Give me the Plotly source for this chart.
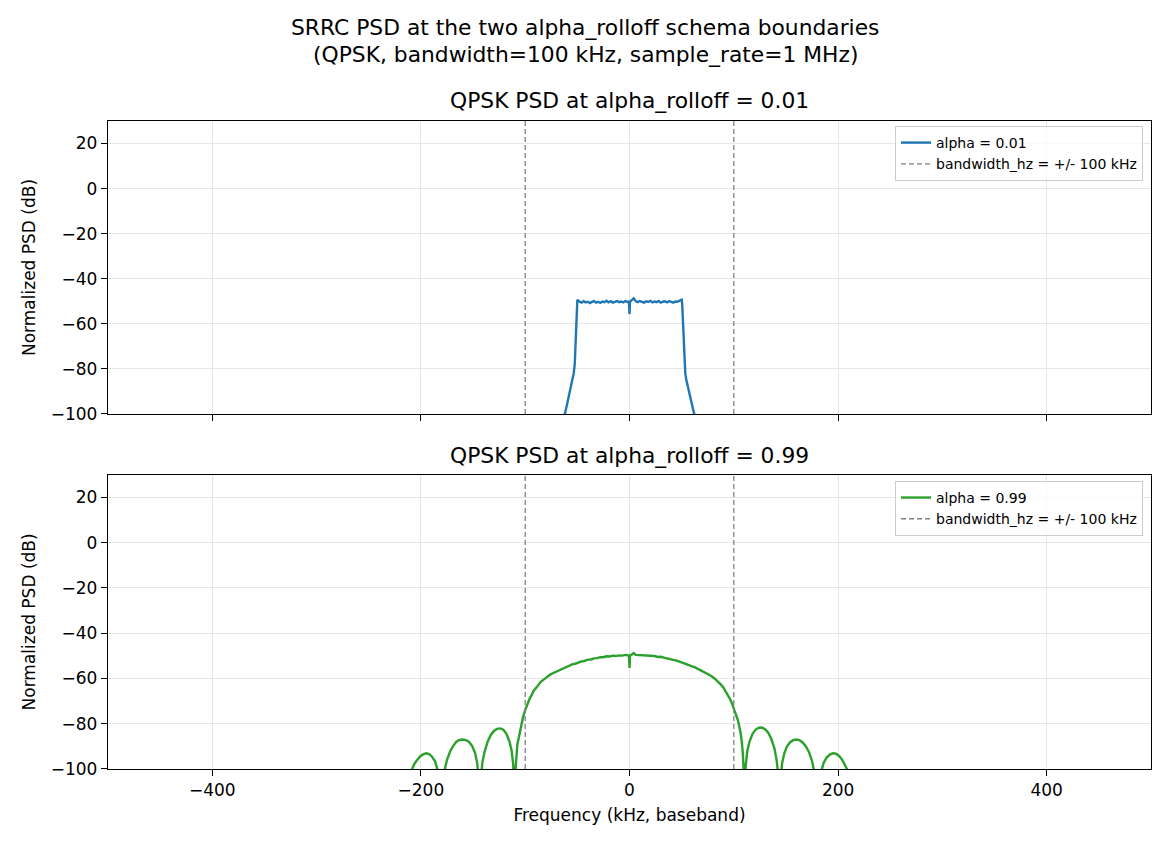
import plotly.graph_objects as go

# ---------------- data ----------------
# alpha = 0.01 PSD (kHz, dB)
freq_a001 = [-70, -62, -60, -58, -56, -54.5, -53.5, -52.5, -52, -51.5, -51, -50.5,
             -50, -48, -46, -44, -42, -40, -38, -36, -34, -32, -30, -28, -26, -24,
             -22, -20, -18, -16, -14, -12, -10, -8, -6, -4, -2,
             -0.5, 0, 0.5,
             2, 4, 6, 8, 10, 12, 14, 16, 18, 20, 22, 24, 26, 28, 30, 32, 34, 36,
             38, 40, 42, 44, 46, 48, 50,
             50.5, 51, 51.5, 52, 52.5, 53.5, 54.5, 56, 58, 60, 62, 70]
psd_a001 = [-110, -100, -96, -92, -88, -85, -82, -78, -73, -65, -56, -51,
            -49.4, -50.1, -50.6, -50.0, -50.5, -50.2, -50.8, -50.3, -49.9, -50.6,
            -50.2, -50.7, -50.1, -50.4, -49.8, -50.5, -50.0, -50.6, -50.2, -49.9,
            -50.4, -50.1, -50.5, -49.9, -50.3,
            -50.2, -55.6, -50.1,
            -49.6, -48.7, -50.0, -50.4, -49.9, -50.3, -50.6, -50.0, -50.3, -49.8,
            -50.5, -50.1, -50.4, -49.9, -50.6, -50.2, -50.0, -50.5, -49.9, -50.3,
            -50.6, -50.1, -50.2, -49.7, -49.3,
            -51, -56, -65, -73, -78, -82, -85, -88, -92, -96, -100, -110]

# alpha = 0.99 PSD (kHz, dB)
freq_a099 = [-213, -211, -208.8, -206.5, -204, -201, -198, -195, -192, -189.5, -186.5, -184.3, -182.5,
             -181, -177.5, -175, -172, -169, -166, -163, -160, -157, -154, -151, -148, -146, -144.6,
             -143.3, -142.3, -141, -139, -136, -133, -130, -127, -124, -121, -118, -115, -113, -111.5,
             -110, -109.2, -108.5, -107.5, -106.5, -105, -103.5, -102, -100, -98, -96, -94, -92, -90,
             -88, -85, -82, -79, -76, -73, -70, -67, -64, -61, -58, -55, -52, -49, -46, -43, -40,
             -37, -34, -31, -28, -25, -22, -19, -16, -13, -10, -7, -4, -1.5, -0.5, 0, 0.5,
             2, 4, 6, 9, 12, 15, 18, 21, 24, 27, 30, 33, 36, 39, 42, 45, 48, 51, 54, 57, 60,
             63, 66, 69, 72, 75, 78, 81, 84, 87, 90, 92, 94, 96, 98, 100, 102, 104, 105.5,
             106.5, 107.5, 108.5, 109.3, 110,
             111.5, 113, 115, 118, 121, 124, 127, 130, 133, 136, 139, 141, 142.5, 143.8,
             145.2, 146.5, 148.5, 151, 154, 157, 160, 163, 166, 169, 172, 175, 177, 180.7,
             182, 184, 186, 189, 192, 195, 198, 201, 204, 207, 209.5, 212, 214]
psd_a099 = [-120, -108, -100.5, -98, -96.3, -94.6, -93.6, -93.1, -93.5, -94.5, -96.5, -100, -110,
            -120, -101, -96, -92.3, -89.8, -88, -87.2, -87, -87.3, -88, -89.8, -93, -97.5, -104,
            -120, -103, -97, -92.5, -88, -85, -83.2, -82.3, -82.1, -82.7, -84.5, -88, -92, -98,
            -120, -100, -93, -89, -87, -83.5, -80, -77, -74, -71.3, -69.2, -67.5, -65.5, -64.4,
            -63.2, -61.5, -60.4, -59.3, -58.3, -57.6, -57, -56.1, -55.7, -54.9, -54.5, -53.8, -53.5,
            -52.9, -52.5, -52.2, -51.7,
            -51.6, -51.1, -51, -50.6, -50.6, -50.2, -50.3, -49.9, -50.1, -49.8, -49.9, -49.6, -49.8,
            -50, -55.4, -49.8,
            -49.5, -48.8, -49.6, -49.7, -49.5, -49.9, -49.8, -50.1, -50.1, -50.5, -50.4, -50.8,
            -51.1, -51.3, -51.8, -52.1, -52.6, -53, -53.6, -54.1, -54.7,
            -55.1, -55.9, -56.6, -57.3, -58.1, -58.8, -59.8, -61, -62.4, -64, -65.5, -67, -68.8,
            -70.7, -73, -76, -78.5, -81.5,
            -84, -87.5, -92, -99, -120,
            -98, -92, -88, -84.5, -82.6, -81.8, -81.7, -82.4, -84, -86.8, -91, -96, -102, -120,
            -102, -97, -93, -90, -88.2, -87.3, -87, -87.3, -88.3, -90, -92.5, -96.5, -101, -120,
            -108, -101, -97.5, -95, -93.7, -93.1, -93.3, -94.3, -96, -98.5, -101, -110, -120]

bandwidth_khz = 100
y_range = [-100, 30]
x_range = [-500, 500]
x_ticks = [-400, -200, 0, 200, 400]
y_ticks = [-100, -80, -60, -40, -20, 0, 20]

# ---------------- figure ----------------
FONT = "DejaVu Sans"
W, H = 1170, 845
K = 855 / 845  # vertical compensation for the capture


def py(px):
    """pixel row (reference) -> paper y"""
    return 1 - px * K / H


fig = go.Figure()

dash_line = dict(color="#808080", width=1.3, dash="5px,3px")
fig.add_trace(go.Scatter(x=freq_a001, y=psd_a001, mode="lines", name="alpha = 0.01",
                         line=dict(color="#1f77b4", width=2.4), xaxis="x", yaxis="y",
                         legend="legend"))
fig.add_trace(go.Scatter(x=[-bandwidth_khz, -bandwidth_khz, None, bandwidth_khz, bandwidth_khz],
                         y=[y_range[0], y_range[1], None, y_range[0], y_range[1]],
                         mode="lines", name="bandwidth_hz = +/- 100 kHz", line=dash_line,
                         xaxis="x", yaxis="y", legend="legend"))
fig.add_trace(go.Scatter(x=freq_a099, y=psd_a099, mode="lines", name="alpha = 0.99",
                         line=dict(color="#2ca02c", width=2.4), xaxis="x2", yaxis="y2",
                         legend="legend2"))
fig.add_trace(go.Scatter(x=[-bandwidth_khz, -bandwidth_khz, None, bandwidth_khz, bandwidth_khz],
                         y=[y_range[0], y_range[1], None, y_range[0], y_range[1]],
                         mode="lines", name="bandwidth_hz = +/- 100 kHz", line=dash_line,
                         xaxis="x2", yaxis="y2", legend="legend2"))

x_dom = [108 / W, 1151 / W]
top_dom = [py(414), py(121)]
bot_dom = [py(769), py(475)]

axis_common = dict(showline=True, mirror=True, linecolor="black", linewidth=1.3,
                   ticks="outside", ticklen=6, tickwidth=1.3, tickcolor="black",
                   showgrid=True, gridcolor="#e6e6e6", gridwidth=1.2,
                   zeroline=False, tickfont=dict(family=FONT, size=17, color="black"))
label_font = dict(family=FONT, size=17, color="black")

fig.update_layout(
    width=W, height=H,
    margin=dict(l=0, r=0, t=0, b=0),
    paper_bgcolor="white", plot_bgcolor="white",
    font=dict(family=FONT, color="black"),
    xaxis=dict(domain=x_dom, anchor="y", range=x_range, tickvals=x_ticks,
               showticklabels=False, **axis_common),
    yaxis=dict(domain=top_dom, anchor="x", range=y_range, tickvals=y_ticks,
               title=dict(text="Normalized PSD (dB)", standoff=10, font=label_font),
               **axis_common),
    xaxis2=dict(domain=x_dom, anchor="y2", range=x_range, tickvals=x_ticks, matches="x",
                title=dict(text="Frequency (kHz, baseband)", standoff=9, font=label_font),
                **axis_common),
    yaxis2=dict(domain=bot_dom, anchor="x2", range=y_range, tickvals=y_ticks,
                title=dict(text="Normalized PSD (dB)", standoff=10, font=label_font),
                **axis_common),
    legend=dict(x=1143 / W, y=py(126), xanchor="right", yanchor="top",
                bgcolor="rgba(255,255,255,0.8)", bordercolor="#cccccc", borderwidth=1,
                font=dict(family=FONT, size=14, color="black"), itemwidth=30,
                tracegroupgap=0),
    legend2=dict(x=1143 / W, y=py(481), xanchor="right", yanchor="top",
                 bgcolor="rgba(255,255,255,0.8)", bordercolor="#cccccc", borderwidth=1,
                 font=dict(family=FONT, size=14, color="black"), itemwidth=30,
                 tracegroupgap=0),
    showlegend=True,
)

annos = [
    ("SRRC PSD at the two alpha_rolloff schema boundaries", 0.5, 28),
    ("(QPSK, bandwidth=100 kHz, sample_rate=1 MHz)", 0.5, 55),
    ("QPSK PSD at alpha_rolloff = 0.01", 629.5 / W, 101),
    ("QPSK PSD at alpha_rolloff = 0.99", 629.5 / W, 456),
]
for text, x, ypx in annos:
    fig.add_annotation(text=text, x=x, y=py(ypx), xref="paper", yref="paper",
                       xanchor="center", yanchor="middle", showarrow=False,
                       font=dict(family=FONT, size=21.8, color="black"))

fig.write_html("out.html")
